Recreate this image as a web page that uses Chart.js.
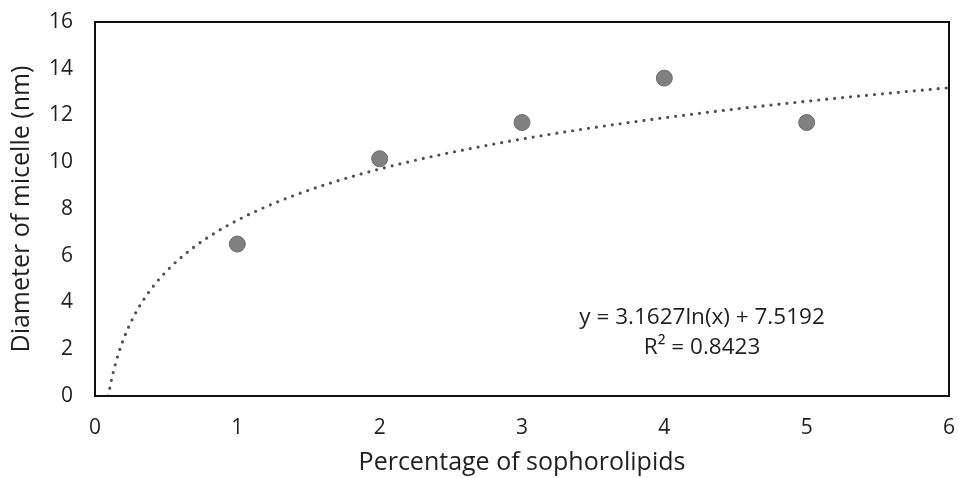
<!DOCTYPE html>
<html>
<head>
<meta charset="utf-8">
<script src="https://cdn.jsdelivr.net/npm/chart.js@4/dist/chart.umd.min.js"></script>
<style>
  html, body { margin: 0; padding: 0; background: #fff; }
  #wrap { width: 959px; height: 478px; }
</style>
</head>
<body>
<div id="wrap"><canvas id="c" width="959" height="478"></canvas></div>
<script>
// Measured points (x = percentage of sophorolipids, y = micelle diameter nm)
const percentages = [1, 2, 3, 4, 5];
const diameters = [6.5, 10.15, 11.7, 13.6, 11.7];

// Logarithmic trendline as printed on the chart: y = 3.1627 ln(x) + 7.5192
const trendSlope = 3.1627;
const trendIntercept = 7.5192;
const trendLabel = 'y = 3.1627ln(x) + 7.5192';
const r2Label = 'R² = 0.8423';

const xTicks = [0, 1, 2, 3, 4, 5, 6];
const yTicks = [0, 2, 4, 6, 8, 10, 12, 14, 16];

const xTitle = 'Percentage of sophorolipids';
const yTitle = 'Diameter of micelle (nm)';

// trendline sampled from its equation, starting where it crosses y = 0
const trendStart = Math.exp(-trendIntercept / trendSlope);
const trendPoints = [];
for (let i = 0; i <= 300; i++) {
  const x = trendStart + (6 - trendStart) * i / 300;
  trendPoints.push({ x: x, y: trendSlope * Math.log(x) + trendIntercept });
}

const FONT = "'Open Sans', 'DejaVu Sans', sans-serif";
const TEXT = '#1f1f1f';

const boxPlugin = {
  id: 'box',
  afterDatasetsDraw(chart) {
    const { ctx, chartArea: a, scales } = chart;
    ctx.save();
    ctx.strokeStyle = '#111';
    ctx.lineWidth = 2;
    ctx.strokeRect(a.left, a.top, a.right - a.left, a.bottom - a.top);
    // equation text, anchored in data space
    ctx.fillStyle = TEXT;
    ctx.font = "22.5px " + FONT;
    ctx.textAlign = 'center';
    ctx.textBaseline = 'middle';
    const cx = scales.x.getPixelForValue(4.265);
    ctx.fillText(trendLabel, cx, scales.y.getPixelForValue(3.34));
    ctx.fillText(r2Label, cx, scales.y.getPixelForValue(2.05));
    ctx.restore();
  }
};

function noOverflow(s) {
  s.paddingLeft = 0; s.paddingRight = 0; s.paddingTop = 0; s.paddingBottom = 0;
}

new Chart(document.getElementById('c'), {
  type: 'scatter',
  data: {
    datasets: [
      {
        label: 'Trendline',
        data: trendPoints,
        showLine: true,
        borderColor: '#505050',
        borderWidth: 3.2,
        borderDash: [0, 8],
        borderCapStyle: 'round',
        pointRadius: 0,
        fill: false,
        order: 2
      },
      {
        label: 'Data',
        data: percentages.map((x, i) => ({ x: x, y: diameters[i] })),
        pointRadius: 8,
        pointBackgroundColor: '#808080',
        pointBorderColor: '#6e6e6e',
        pointBorderWidth: 1,
        showLine: false,
        order: 1
      }
    ]
  },
  options: {
    responsive: false,
    animation: false,
    devicePixelRatio: 1,
    layout: { padding: { top: 22, right: 10, left: 0, bottom: 0 } },
    plugins: {
      legend: { display: false },
      tooltip: { enabled: false }
    },
    scales: {
      x: {
        type: 'linear',
        min: 0, max: 6,
        afterBuildTicks: (s) => { s.ticks = xTicks.map(v => ({ value: v })); },
        afterFit: (s) => { s.height = 82; noOverflow(s); },
        grid: { display: false, drawTicks: false },
        border: { display: false },
        ticks: { color: TEXT, font: { family: FONT, size: 21 }, padding: 19, maxRotation: 0 },
        title: { display: true, text: xTitle, color: TEXT, font: { family: FONT, size: 25 }, padding: { top: 0, bottom: 0 } }
      },
      y: {
        type: 'linear',
        min: 0, max: 16,
        afterBuildTicks: (s) => { s.ticks = yTicks.map(v => ({ value: v })); },
        afterFit: (s) => { s.width = 95; noOverflow(s); },
        grid: { display: false, drawTicks: false },
        border: { display: false },
        ticks: { color: TEXT, font: { family: FONT, size: 21 }, padding: 22 },
        title: { display: true, text: yTitle, color: TEXT, font: { family: FONT, size: 25 }, padding: { top: 7, bottom: 0 } }
      }
    }
  },
  plugins: [boxPlugin]
});
</script>
</body>
</html>
